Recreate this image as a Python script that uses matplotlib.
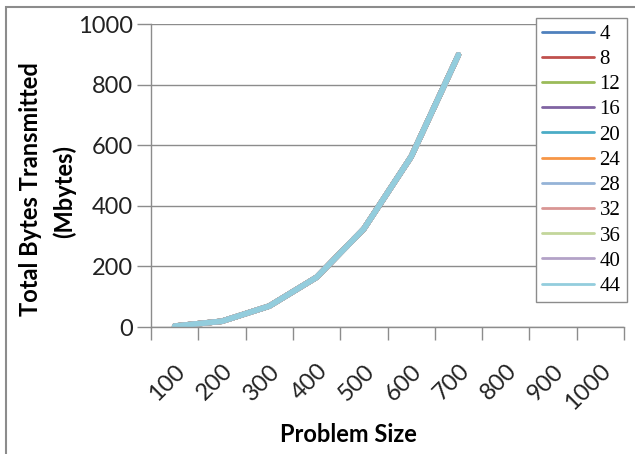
import matplotlib
matplotlib.use("Agg")
import matplotlib.pyplot as plt
from matplotlib.patches import Rectangle
import numpy as np

categories = ["100", "200", "300", "400", "500", "600", "700", "800", "900", "1000"]
series_names = ["4", "8", "12", "16", "20", "24", "28", "32", "36", "40", "44"]
values = [3, 19, 69, 164, 324, 562, 898]
colors = ["#4F81BD", "#C0504D", "#9BBB59", "#8064A2", "#4BACC6", "#F79646",
          "#95B3D7", "#D99694", "#C3D69B", "#B3A2C7", "#93CDDD"]
yticks = [0, 200, 400, 600, 800, 1000]

W, H = 635, 454
fig = plt.figure(figsize=(W / 100, H / 100), dpi=100)
ax = fig.add_axes([151 / W, 1 - 327 / H, (624 - 151) / W, (327 - 24) / H])

x = np.arange(len(values))
for name, c in zip(series_names, colors):
    ax.plot(x, values, color=c, lw=4.0,
            solid_capstyle="round", solid_joinstyle="round", label=name)

ax.set_xlim(-0.5, len(categories) - 0.5)
ax.set_ylim(0, 1000)
ax.set_yticks(yticks)
ax.set_yticklabels([str(v) for v in yticks], fontsize=17, family="Lato", color="#222222")
ax.grid(axis="y", color="#8C8C8C", lw=1)
ax.set_axisbelow(True)
ax.set_xticks(np.arange(len(categories) + 1) - 0.5)
ax.set_xticklabels([])
ax.set_xticks(np.arange(len(categories)), minor=True)
ax.set_xticklabels(categories, minor=True, rotation=45, ha="right", va="top",
                   rotation_mode="anchor", fontsize=17, family="Lato", color="#222222")
ax.tick_params(axis="x", which="major", length=9, color="#8C8C8C", width=1, direction="out")
ax.tick_params(axis="x", which="minor", length=0, pad=24)
ax.tick_params(axis="y", length=10, color="#8C8C8C", width=1, pad=3)
for s in ["top", "right"]:
    ax.spines[s].set_visible(False)
for s in ["left", "bottom"]:
    ax.spines[s].set_color("#8C8C8C")
    ax.spines[s].set_linewidth(1)

fig.text(31 / W, 1 - 189 / H, "Total Bytes Transmitted", rotation=90, ha="center", va="center",
         fontsize=17, fontweight="bold", family="Lato")
fig.text(64 / W, 1 - 191 / H, "(Mbytes)", rotation=90, ha="center", va="center",
         fontsize=17, fontweight="bold", family="Lato")
fig.text(348 / W, 1 - 435 / H, "Problem Size", ha="center", va="center",
         fontsize=17, fontweight="bold", family="Lato")

handles, labels = ax.get_legend_handles_labels()
leg = fig.legend(handles, labels, loc="upper left", bbox_to_anchor=(536 / W, 1 - 18 / H),
                 frameon=True, fancybox=False, edgecolor="#8C8C8C", framealpha=1,
                 prop={"family": "Liberation Serif", "size": 15},
                 handlelength=2.5, handletextpad=0.25, labelspacing=0.27,
                 borderpad=0.3, borderaxespad=0)
leg.get_frame().set_linewidth(1)
for l in leg.get_lines():
    l.set_linewidth(2)

fig.patches.append(Rectangle((6 / W, -0.05), 1.0, 1 - 7 / H + 0.05, transform=fig.transFigure,
                             fill=False, edgecolor="#8C8C8C", lw=1.5))

fig.savefig("out.png", dpi=100)
